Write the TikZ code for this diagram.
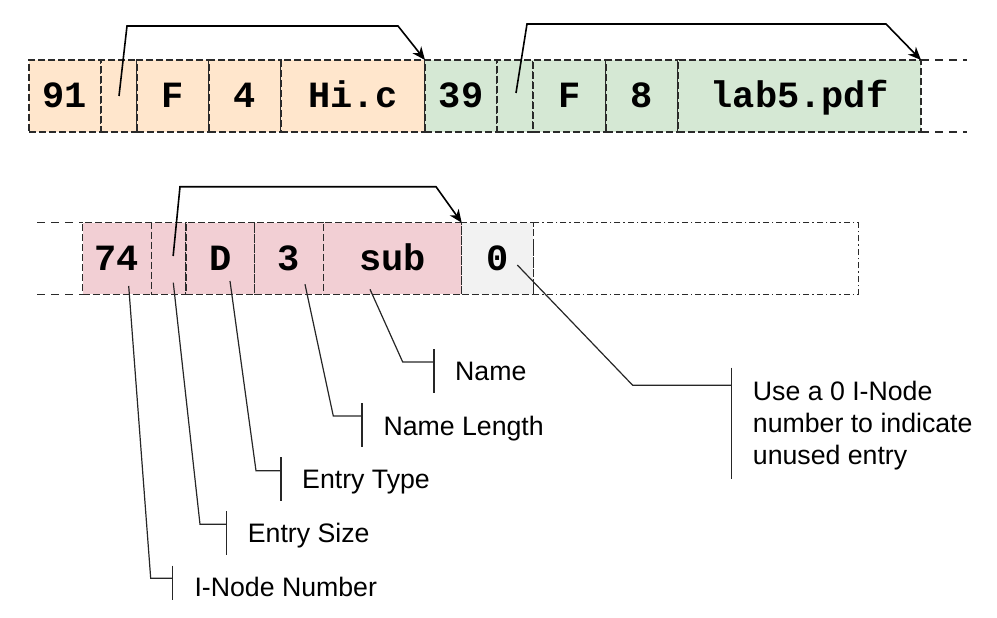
\documentclass[tikz,border=0pt]{standalone}
\usepackage{fontspec}
\setmainfont{Liberation Sans}
\newfontfamily\monob{Liberation Mono}
\usetikzlibrary{arrows.meta,calc}
\definecolor{orangef}{HTML}{FFE6CC}
\definecolor{greenf}{HTML}{D5E8D4}
\definecolor{pinkf}{HTML}{F2CFD4}
\definecolor{grayf}{HTML}{F2F2F2}
\definecolor{linec}{HTML}{2A2A2A}
\begin{document}
\begin{tikzpicture}[x=1pt,y=-1pt,
  cell/.style={draw=linec, line width=1.2pt, dash pattern=on 7pt off 3pt,
    anchor=north west, inner sep=0pt, outer sep=0pt, text height=23pt, text depth=0pt,
    font=\monob\bfseries\fontsize{37}{40}\selectfont},
  rowa/.style={cell, minimum height=72pt},
  rowb/.style={cell, minimum height=71.6pt},
  ext/.style={draw=linec, line width=1.2pt, dash pattern=on 8pt off 6pt},
  dashdotbox/.style={draw=linec, line width=1.2pt, dash pattern=on 6pt off 3pt on 1.5pt off 3pt,
    anchor=north west, inner sep=0pt, outer sep=0pt, minimum height=71.6pt},
  ptr/.style={draw=black, line width=1.6pt, -{Stealth[length=13pt,width=11pt,inset=4pt]}},
  callout/.style={draw=black!85, line width=1.2pt},
  lbl/.style={anchor=base west, inner sep=0pt, font=\fontsize{26.7}{32}\selectfont, align=left}
]
\useasboundingbox (0,0) rectangle (997,618);

% ---- row 1 ----
\node[rowa, fill=orangef, minimum width=72pt]  (a1)  at (29,60)  {91};
\node[rowa, fill=orangef, minimum width=36pt]  (a2)  at (101,60) {};
\node[rowa, fill=orangef, minimum width=72pt]  (a3)  at (137,60) {F};
\node[rowa, fill=orangef, minimum width=72pt]  (a4)  at (209,60) {4};
\node[rowa, fill=orangef, minimum width=144pt] (a5)  at (281,60) {Hi.c};
\node[rowa, fill=greenf,  minimum width=72pt]  (a6)  at (425,60) {39};
\node[rowa, fill=greenf,  minimum width=36pt]  (a7)  at (497,60) {};
\node[rowa, fill=greenf,  minimum width=73pt]  (a8)  at (533,60) {F};
\node[rowa, fill=greenf,  minimum width=72pt]  (a9)  at (606,60) {8};
\node[rowa, fill=greenf,  minimum width=243pt] (a10) at (678,60) {lab5.pdf};
\coordinate (ea1) at (967,60);
\coordinate (ea2) at (967,132);
\draw[ext] (a10.north east) -- (ea1);
\draw[ext] (a10.south east) -- (ea2);

% ---- row 2 ----
\node[rowb, fill=pinkf, minimum width=68.6pt]  (b1) at (82.7,222.7)  {74};
\node[rowb, fill=pinkf, minimum width=34.7pt]  (b2) at (151.3,222.7) {};
\node[rowb, fill=pinkf, minimum width=68.7pt]  (b3) at (186,222.7)   {D};
\node[rowb, fill=pinkf, minimum width=68.6pt]  (b4) at (254.7,222.7) {3};
\node[rowb, fill=pinkf, minimum width=138.4pt] (b5) at (323.3,222.7) {sub};
\node[rowb, fill=grayf, minimum width=71.6pt]  (b6) at (461.7,222.7) {0};
\node[dashdotbox, minimum width=325pt] (b7) at (533.3,222.7) {};
\coordinate (eb1) at (37,222.7);
\coordinate (eb2) at (37,294.3);
\draw[ext] (eb1) -- (b1.north west);
\draw[ext] (eb2) -- (b1.south west);

% ---- pointers ----
\coordinate (p1) at (127,26);  \coordinate (q1) at (398,26);
\draw[ptr] (a2.center) -- (p1) -- (q1) -- (a5.north east);
\coordinate (p2) at (527,24);  \coordinate (q2) at (886,24);
\draw[ptr] ($(a7.center)+(1,-3)$) -- (p2) -- (q2) -- (a10.north east);
\coordinate (p3) at (180,186.7); \coordinate (q3) at (436,186.7);
\draw[ptr] ($(b2.center)+(4.5,-2.5)$) -- (p3) -- (q3) -- (b5.north east);

% ---- callouts ----
% Name
\coordinate (s5) at (370,289.3); \coordinate (k5) at (402.7,362); \coordinate (m5) at (434,362);
\coordinate (t5) at (434,349.3); \coordinate (u5) at (434,393.3);
\draw[callout] (s5) -- (k5) -- (m5);
\draw[callout] (t5) -- (u5);
\node[lbl] (lname) at (455,380) {Name};
% Name Length
\coordinate (s4) at (305,284.3); \coordinate (k4) at (333.3,416); \coordinate (m4) at (362,416);
\coordinate (t4) at (362,403.3); \coordinate (u4) at (362,446.7);
\draw[callout] (s4) -- (k4) -- (m4);
\draw[callout] (t4) -- (u4);
\node[lbl] (llen) at (383.3,435.3) {Name Length};
% Entry Type
\coordinate (s3) at (230,281); \coordinate (k3) at (256,470.7); \coordinate (m3) at (281,470.7);
\coordinate (t3) at (281,457.3); \coordinate (u3) at (281,501);
\draw[callout] (s3) -- (k3) -- (m3);
\draw[callout] (t3) -- (u3);
\node[lbl] (ltype) at (302,488.5) {Entry Type};
% Entry Size
\coordinate (s2) at (173.3,282.7); \coordinate (k2) at (200,524.3); \coordinate (m2) at (226.7,524.3);
\coordinate (t2) at (226.7,511); \coordinate (u2) at (226.7,555.3);
\draw[callout] (s2) -- (k2) -- (m2);
\draw[callout] (t2) -- (u2);
\node[lbl] (lsize) at (247.7,542.5) {Entry Size};
% I-Node Number
\coordinate (s1) at (128.7,286); \coordinate (k1) at (150.7,578.3); \coordinate (m1) at (172.7,578.3);
\coordinate (t1) at (172.7,565.7); \coordinate (u1) at (172.7,600);
\draw[callout] (s1) -- (k1) -- (m1);
\draw[callout] (t1) -- (u1);
\node[lbl] (linode) at (194.3,596.7) {I-Node Number};
% unused (base anchor is the baseline of the last line)
\coordinate (s6) at (517.3,265); \coordinate (k6) at (632.7,385.3); \coordinate (m6) at (731.7,385.3);
\coordinate (t6) at (731.7,367.7); \coordinate (u6) at (731.7,479);
\draw[callout] (s6) -- (k6) -- (m6);
\draw[callout] (t6) -- (u6);
\node[lbl] (lunused) at (752.7,464) {Use a 0 I-Node\\number to indicate\\unused entry};
\end{tikzpicture}
\end{document}
